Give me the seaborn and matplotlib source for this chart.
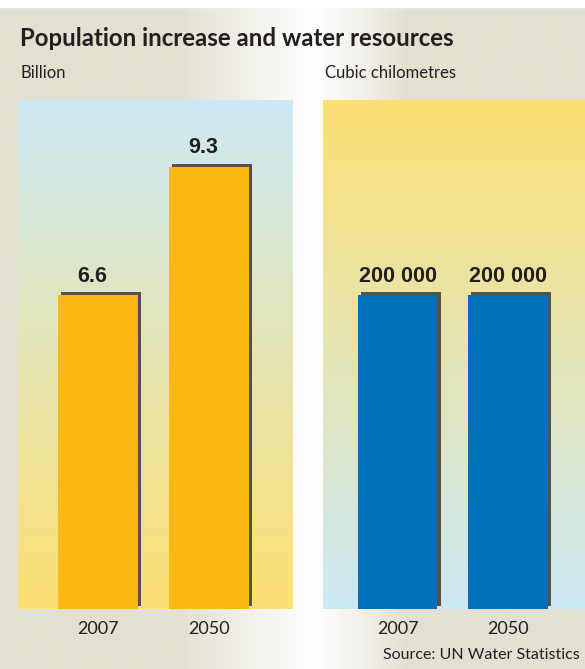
import numpy as np
import matplotlib
matplotlib.use("Agg")
import matplotlib.pyplot as plt
import matplotlib.patheffects as pe
from matplotlib.colors import to_rgb, LinearSegmentedColormap
import seaborn as sns

# data
years = ["2007", "2050"]
population = [6.6, 9.3]            # billion
water = [200000, 200000]           # cubic kilometres
pop_labels = ["6.6", "9.3"]
water_labels = ["200 000", "200 000"]

title = "Population increase and water resources"
left_unit = "Billion"
right_unit = "Cubic chilometres"
source = "Source: UN Water Statistics"

# colours
orange = "#fdb813"
blue = "#0070bb"
shadow = "#55524a"
beige = "#e3e0d2"
light_blue = "#cce9f5"
light_yellow = "#fde072"

sns.set_theme(style="white")
plt.rcParams["font.family"] = ["Lato", "DejaVu Sans"]

W, H = 585, 669
fig = plt.figure(figsize=(W / 100, H / 100), dpi=100)

# figure background: beige with a white glow between the panels
bg = fig.add_axes([0, 0, 1, 1], zorder=-5)
bg_cmap = LinearSegmentedColormap.from_list(
    "bg", [(0, beige), (0.3, beige), (0.54, "#ffffff"), (0.7, beige), (1, beige)])
bg.imshow(np.linspace(0, 1, 400)[None, :], cmap=bg_cmap, aspect="auto",
          extent=[0, 1, 0, 1])
bg.add_patch(plt.Rectangle((0, 1 - 7 / H), 1, 7 / H, color="white"))
bg.set_xlim(0, 1)
bg.set_ylim(0, 1)
bg.axis("off")


def gradient(ax, top, bottom, xlim, ytop):
    c1, c2 = np.array(to_rgb(top)), np.array(to_rgb(bottom))
    t = np.linspace(0, 1, 256)[:, None]
    img = (c1 * (1 - t) + c2 * t)[:, None, :]
    ax.imshow(img, extent=[xlim[0], xlim[1], 0, ytop], aspect="auto",
              origin="upper", zorder=0)


def panel(rect, values, labels, color, top, bottom, xlim, ytop, shift=0):
    ax = fig.add_axes(rect)
    gradient(ax, top, bottom, xlim, ytop)
    sns.barplot(x=years, y=values, ax=ax, color=color, width=0.72,
                saturation=1, linewidth=0, edgecolor="none", zorder=2)
    for p in ax.patches:
        p.set_path_effects([
            pe.SimplePatchShadow(offset=(2.2, 2.2), shadow_rgbFace=shadow,
                                 alpha=1),
            pe.Normal()])
    anns = ax.bar_label(ax.containers[0], labels=labels, padding=6,
                        fontsize=15.5, fontweight="bold", color="#231f20",
                        family="Liberation Sans")
    for a in anns:
        a.xyann = (shift, 6)
    ax.set_xlim(*xlim)
    ax.set_ylim(0, ytop)
    ax.set_yticks([])
    ax.set_xlabel("")
    ax.set_ylabel("")
    ax.tick_params(axis="x", length=0, pad=9, labelsize=13,
                   labelcolor="#231f20")
    for s in ax.spines.values():
        s.set_visible(False)
    return ax


pop_top = 10.7
water_top = water[0] * pop_top / population[0]

ax1 = panel([18 / W, 60 / H, 275 / W, 509 / H], population, pop_labels,
            orange, light_blue, light_yellow, (-0.72, 1.76), pop_top, shift=-4)
ax2 = panel([323 / W, 60 / H, 262 / W, 509 / H], water, water_labels,
            blue, light_yellow, light_blue, (-0.68, 1.70), water_top)

fig.text(20 / W, 1 - 38 / H, title, fontsize=17.3, fontweight="bold",
         color="#231f20", va="center", ha="left")
fig.text(20 / W, 1 - 73 / H, left_unit, fontsize=12, color="#231f20",
         va="center", ha="left")
fig.text(325 / W, 1 - 73 / H, right_unit, fontsize=12, color="#231f20",
         va="center", ha="left")
fig.text(580 / W, 1 - 655 / H, source, fontsize=11.5, color="#231f20",
         va="center", ha="right")

fig.savefig("out.png", dpi=100)
